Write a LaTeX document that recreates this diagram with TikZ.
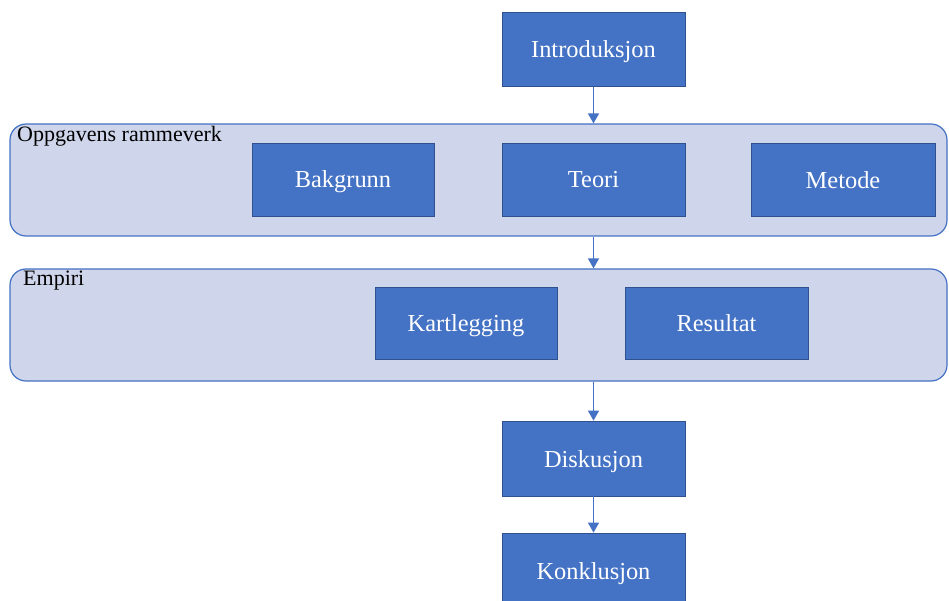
\documentclass[tikz,border=0pt]{standalone}
\usepackage{fontspec}
\setmainfont{Liberation Serif}
\usetikzlibrary{arrows.meta}
\definecolor{boxblue}{HTML}{4472C4}
\definecolor{boxedge}{HTML}{2F528F}
\definecolor{framefill}{HTML}{CFD5EA}
\tikzset{
  stepbox/.style={draw=boxedge, line width=0.8pt, fill=boxblue, text=white,
    minimum width=183pt, minimum height=74pt, inner sep=0pt,
    text height=17pt, text depth=0pt,
    font=\fontsize{24.4}{26}\selectfont},
  groupframe/.style={draw=boxblue, line width=1.2pt, fill=framefill,
    rounded corners=16pt, minimum width=937pt, minimum height=112pt, inner sep=0pt},
  grouplabel/.style={anchor=base west, inner sep=0pt, font=\fontsize{22}{24}\selectfont},
  flow/.style={draw=boxblue, line width=1.5pt, -{Triangle[width=11pt,length=10pt]}}
}
\begin{document}
\begin{tikzpicture}[x=1pt,y=-1pt]
\useasboundingbox (0,0) rectangle (949,601);
\clip (0,0) rectangle (949,601);
% top step
\node[stepbox] (intro) at (593.5,49.5) {Introduksjon};
% framework group
\node[groupframe] (frame) at (478.5,180) {};
\node[grouplabel] (framelabel) at (17,142) {Oppgavens rammeverk};
\node[stepbox, minimum height=73pt, minimum width=182pt] (bak) at (343,179.5) {Bakgrunn};
\node[stepbox, minimum height=73pt] (teori) at (593.5,179.5) {Teori};
\node[stepbox, minimum height=73pt, minimum width=184pt] (metode) at (843,180) {Metode};
% empirical group
\node[groupframe] (empiri) at (478.5,325) {};
\node[grouplabel] (empirilabel) at (23,285) {Empiri};
\node[stepbox, minimum height=72pt, minimum width=182pt] (kart) at (466,323) {Kartlegging};
\node[stepbox, minimum height=72pt] (res) at (716.5,323) {Resultat};
% closing steps
\node[stepbox, minimum height=75pt] (disk) at (593.5,458.5) {Diskusjon};
\node[stepbox, minimum height=75pt] (konk) at (593.5,570.5) {Konklusjon};
% connectors
\draw[flow] (intro.south) -- (intro.south |- frame.north);
\draw[flow] (frame.south -| intro.south) -- (intro.south |- empiri.north);
\draw[flow] (empiri.south -| disk.north) -- (disk.north);
\draw[flow] (disk.south) -- (konk.north);
\end{tikzpicture}
\end{document}
